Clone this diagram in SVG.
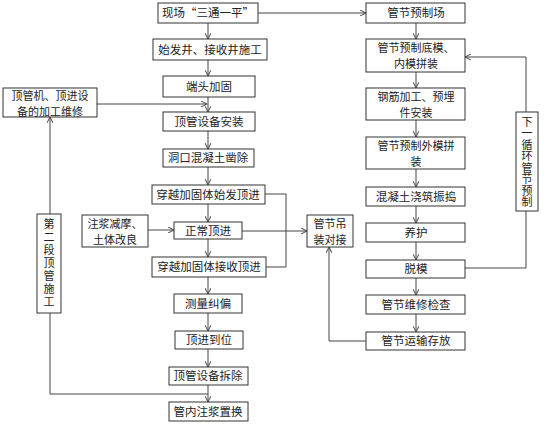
<svg xmlns="http://www.w3.org/2000/svg" width="554" height="426" viewBox="0 0 554 426">
<style>
.b{fill:#fff;stroke:#333;stroke-width:1}
.t{font-family:"Noto Sans CJK SC","Liberation Sans",sans-serif;font-size:11.5px;fill:#222;text-anchor:middle}
.m{font-size:11px}
.v{font-size:11px;writing-mode:vertical-rl}
.c{fill:none;stroke:#444;stroke-width:1}
.a{marker-end:url(#ar)}
</style>
<defs>
<marker id="ar" viewBox="0 0 6 6" refX="6" refY="3" markerWidth="6" markerHeight="6" orient="auto" markerUnits="userSpaceOnUse">
<path d="M0,0 L6,3 L0,6" fill="none" stroke="#444" stroke-width="1"/>
</marker>
</defs>
<rect width="554" height="426" fill="#fff"/>
<g id="connectors">
<line class="c a" x1="208" y1="23" x2="208" y2="39"/>
<line class="c a" x1="258" y1="13" x2="366" y2="13"/>
<line class="c a" x1="208" y1="60" x2="208" y2="76"/>
<line class="c a" x1="208" y1="97" x2="208" y2="112"/>
<line class="c a" x1="97" y1="104" x2="207" y2="104"/>
<line class="c a" x1="208" y1="131" x2="208" y2="149"/>
<line class="c a" x1="208" y1="167" x2="208" y2="185"/>
<line class="c a" x1="208" y1="204" x2="208" y2="222"/>
<line class="c a" x1="208" y1="239" x2="208" y2="257"/>
<line class="c a" x1="208" y1="277" x2="208" y2="294"/>
<line class="c a" x1="208" y1="313" x2="208" y2="331"/>
<line class="c a" x1="208" y1="349" x2="208" y2="367"/>
<line class="c a" x1="208" y1="385" x2="208" y2="402"/>
<line class="c a" x1="148" y1="230" x2="174" y2="230"/>
<polyline class="c" points="265,194 286,194 286,267 266,267"/>
<line class="c a" x1="242" y1="231" x2="307" y2="231"/>
<line class="c a" x1="50" y1="214" x2="50" y2="117"/>
<polyline class="c" points="50,313 50,394 208,394"/>
<line class="c a" x1="416" y1="23" x2="416" y2="39"/>
<line class="c a" x1="416" y1="72" x2="416" y2="88"/>
<line class="c a" x1="416" y1="120" x2="416" y2="137"/>
<line class="c a" x1="416" y1="169" x2="416" y2="187"/>
<line class="c a" x1="416" y1="206" x2="416" y2="223"/>
<line class="c a" x1="416" y1="242" x2="416" y2="260"/>
<line class="c a" x1="416" y1="278" x2="416" y2="295"/>
<line class="c a" x1="416" y1="314" x2="416" y2="332"/>
<polyline class="c a" points="526,112 526,57 465,57"/>
<polyline class="c" points="526,211 526,268 465,268"/>
<polyline class="c a" points="366,341 329,341 329,247"/>
</g>
<g id="n1"><rect class="b" x="158" y="3" width="100" height="20"/><text class="t" x="208" y="17.3">现场“三通一平”</text></g>
<g id="n2"><rect class="b" x="153" y="39" width="114" height="21"/><text class="t" x="210" y="53.8">始发井、接收井施工</text></g>
<g id="n3"><rect class="b" x="163" y="76" width="92" height="21"/><text class="t" x="209" y="90.8">端头加固</text></g>
<g id="n4"><rect class="b" x="3" y="88" width="94" height="29"/><text class="t m"><tspan x="50" y="99.5">顶管机、顶进设</tspan><tspan x="50" y="115.5">备的加工维修</tspan></text></g>
<g id="n5"><rect class="b" x="163" y="112" width="92" height="19"/><text class="t" x="209" y="125.8">顶管设备安装</text></g>
<g id="n6"><rect class="b" x="163" y="149" width="91" height="18"/><text class="t" x="208" y="162.3">洞口混凝土凿除</text></g>
<g id="n7"><rect class="b" x="152" y="185" width="113" height="19"/><text class="t" x="208" y="198.8">穿越加固体始发顶进</text></g>
<g id="n8"><rect class="b" x="82" y="215" width="66" height="32"/><text class="t m"><tspan x="115" y="227.5">注浆减摩、</tspan><tspan x="115" y="243.5">土体改良</tspan></text></g>
<g id="n9"><rect class="b" x="174" y="222" width="68" height="17"/><text class="t" x="208" y="234.8">正常顶进</text></g>
<g id="n10"><rect class="b" x="152" y="257" width="114" height="20"/><text class="t" x="209" y="271.3">穿越加固体接收顶进</text></g>
<g id="n11"><rect class="b" x="174" y="294" width="68" height="19"/><text class="t" x="208" y="307.8">测量纠偏</text></g>
<g id="n12"><rect class="b" x="175" y="331" width="68" height="18"/><text class="t" x="209" y="344.3">顶进到位</text></g>
<g id="n13"><rect class="b" x="169" y="367" width="79" height="18"/><text class="t" x="208" y="380.3">顶管设备拆除</text></g>
<g id="n14"><rect class="b" x="169" y="402" width="79" height="19"/><text class="t" x="208" y="415.8">管内注浆置换</text></g>
<g id="n15"><rect class="b" x="37" y="214" width="24" height="99"/>
<text class="t v" x="49" y="264" letter-spacing="2">第二段顶管施工</text>
</g>
<g id="n16"><rect class="b" x="307" y="215" width="46" height="32"/><text class="t m"><tspan x="330" y="227.5">管节吊</tspan><tspan x="330" y="243.5">装对接</tspan></text></g>
<g id="n17"><rect class="b" x="366" y="3" width="99" height="20"/><text class="t" x="416" y="17.3">管节预制场</text></g>
<g id="n18"><rect class="b" x="366" y="39" width="99" height="33"/><text class="t m"><tspan x="416" y="51.5">管节预制底模、</tspan><tspan x="416" y="67.5">内模拼装</tspan></text></g>
<g id="n19"><rect class="b" x="366" y="88" width="99" height="32"/><text class="t m"><tspan x="416" y="100.5">钢筋加工、预埋</tspan><tspan x="416" y="116.5">件安装</tspan></text></g>
<g id="n20"><rect class="b" x="366" y="137" width="99" height="32"/><text class="t m"><tspan x="416" y="149.5">管节预制外模拼</tspan><tspan x="416" y="165.5">装</tspan></text></g>
<g id="n21"><rect class="b" x="366" y="187" width="99" height="19"/><text class="t" x="416" y="200.8">混凝土浇筑振捣</text></g>
<g id="n22"><rect class="b" x="366" y="223" width="99" height="19"/><text class="t" x="416" y="236.8">养护</text></g>
<g id="n23"><rect class="b" x="366" y="260" width="99" height="18"/><text class="t" x="416" y="273.3">脱模</text></g>
<g id="n24"><rect class="b" x="366" y="295" width="99" height="19"/><text class="t" x="416" y="308.8">管节维修检查</text></g>
<g id="n25"><rect class="b" x="366" y="332" width="99" height="18"/><text class="t" x="416" y="345.3">管节运输存放</text></g>
<g id="n26"><rect class="b" x="516" y="112" width="22" height="99"/>
<text class="t v" x="527" y="162" letter-spacing="0.5">下一循环管节预制</text>
</g>
</svg>
